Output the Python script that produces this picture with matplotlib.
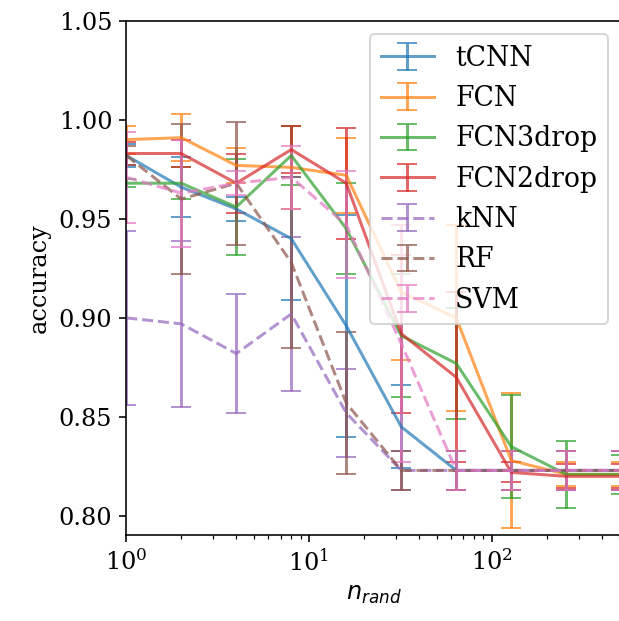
import matplotlib
matplotlib.use("Agg")
import matplotlib.pyplot as plt

plt.rcParams['font.family'] = 'serif'
plt.rcParams['font.size'] = 12

n_rand = [1, 2, 4, 8, 16, 32, 64, 128, 256, 512]

# mean accuracy and error per model
acc_tcnn = [0.982, 0.966, 0.955, 0.940, 0.896, 0.845, 0.823, 0.823, 0.823, 0.823]
err_tcnn = [0.006, 0.015, 0.006, 0.031, 0.056, 0.021, 0.010, 0.010, 0.010, 0.010]

acc_fcn = [0.990, 0.991, 0.977, 0.976, 0.972, 0.913, 0.900, 0.828, 0.821, 0.821]
err_fcn = [0.007, 0.012, 0.009, 0.021, 0.019, 0.034, 0.047, 0.034, 0.006, 0.006]

acc_fcn3 = [0.968, 0.968, 0.956, 0.982, 0.945, 0.891, 0.877, 0.835, 0.821, 0.821]
err_fcn3 = [0.002, 0.008, 0.024, 0.015, 0.023, 0.031, 0.028, 0.026, 0.017, 0.010]

acc_fcn2 = [0.983, 0.983, 0.968, 0.985, 0.968, 0.892, 0.870, 0.822, 0.820, 0.820]
err_fcn2 = [0.006, 0.007, 0.015, 0.012, 0.028, 0.040, 0.043, 0.005, 0.006, 0.006]

acc_knn = [0.900, 0.897, 0.882, 0.902, 0.852, 0.823, 0.823, 0.823, 0.823, 0.823]
err_knn = [0.044, 0.042, 0.030, 0.039, 0.022, 0.010, 0.010, 0.010, 0.010, 0.010]

acc_rf = [0.982, 0.960, 0.968, 0.928, 0.857, 0.823, 0.823, 0.823, 0.823, 0.823]
err_rf = [0.005, 0.038, 0.031, 0.043, 0.036, 0.010, 0.010, 0.010, 0.010, 0.010]

acc_svm = [0.971, 0.963, 0.968, 0.971, 0.947, 0.887, 0.823, 0.823, 0.823, 0.823]
err_svm = [0.023, 0.027, 0.006, 0.016, 0.027, 0.060, 0.010, 0.010, 0.010, 0.010]

models = [
    ('tCNN', acc_tcnn, err_tcnn, '-'),
    ('FCN', acc_fcn, err_fcn, '-'),
    ('FCN3drop', acc_fcn3, err_fcn3, '-'),
    ('FCN2drop', acc_fcn2, err_fcn2, '-'),
    ('kNN', acc_knn, err_knn, '--'),
    ('RF', acc_rf, err_rf, '--'),
    ('SVM', acc_svm, err_svm, '--'),
]

fig = plt.figure(figsize=(619 / 144, 621 / 144), dpi=144)
ax = fig.add_axes([0.204, 0.1385, 0.7997, 0.828])

for i, (name, acc, err, ls) in enumerate(models):
    ax.errorbar(n_rand, acc, yerr=err, label=name, color='C%d' % i,
                linestyle=ls, capsize=5, alpha=0.7)

ax.set_xscale('log')
ax.set_xlim(1, 512)
ax.set_ylim(0.7904, 1.05)
ax.set_yticks([0.80, 0.85, 0.90, 0.95, 1.00, 1.05])
ax.set_xlabel('$n_{rand}$')
ax.set_ylabel('accuracy')
ax.legend(loc='upper right', fontsize=13.3)

fig.savefig('out.png', dpi=144)
